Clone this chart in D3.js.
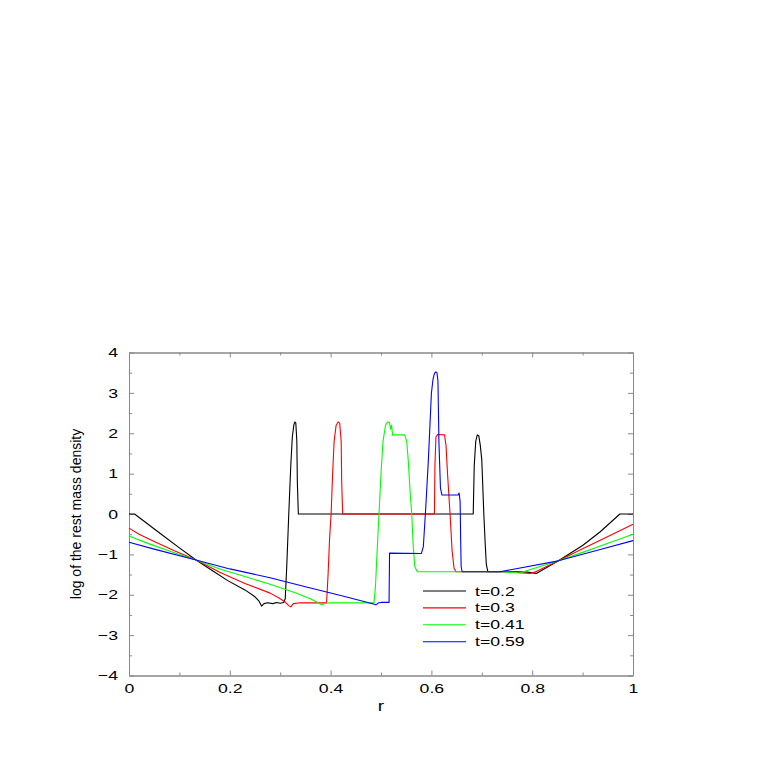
<!DOCTYPE html>
<html>
<head>
<meta charset="utf-8">
<script src="https://cdn.jsdelivr.net/npm/d3@7"></script>
<style>
  body { margin: 0; background: #fff; }
  text { font-family: "Liberation Sans", Arial, Helvetica, sans-serif; }
</style>
</head>
<body>
<div id="chart"></div>
<script>
// series: [r, log density]
const t02 = [[0,0],[0.011,0],[0.03,-0.18],[0.064,-0.5],[0.10,-0.84],[0.133,-1.14],[0.165,-1.40],[0.196,-1.65],[0.23,-1.88],[0.25,-2.05],[0.258,-2.16],[0.263,-2.28],[0.268,-2.22],[0.275,-2.20],[0.285,-2.22],[0.293,-2.19],[0.30,-2.21],[0.307,-2.19],[0.310,-2.1],[0.313,-1.3],[0.317,0],[0.321,1.2],[0.324,1.9],[0.327,2.2],[0.329,2.28],[0.331,2.25],[0.333,1.8],[0.334,0.8],[0.336,0],[0.683,0],[0.685,1.2],[0.688,1.8],[0.691,1.96],[0.694,1.94],[0.697,1.7],[0.700,1.34],[0.704,0],[0.707,-0.8],[0.709,-1.25],[0.712,-1.43],[0.77,-1.43],[0.79,-1.44],[0.809,-1.47],[0.852,-1.16],[0.90,-0.78],[0.935,-0.44],[0.974,0],[1,0]];
const t03 = [[0,-0.35],[0.02,-0.50],[0.05,-0.68],[0.09,-0.91],[0.133,-1.14],[0.18,-1.44],[0.23,-1.72],[0.28,-1.96],[0.296,-2.07],[0.31,-2.18],[0.317,-2.27],[0.321,-2.30],[0.326,-2.22],[0.34,-2.20],[0.392,-2.20],[0.395,-1.5],[0.398,-0.6],[0.401,0],[0.404,1.0],[0.407,1.8],[0.411,2.2],[0.415,2.28],[0.418,2.25],[0.421,1.8],[0.422,0.8],[0.424,0],[0.606,0],[0.607,1.2],[0.609,1.9],[0.612,1.97],[0.626,1.96],[0.629,1.7],[0.632,1.0],[0.637,0],[0.641,-0.9],[0.645,-1.35],[0.649,-1.43],[0.76,-1.43],[0.78,-1.46],[0.796,-1.47],[0.805,-1.44],[0.852,-1.16],[0.90,-0.86],[0.935,-0.65],[1,-0.255]];
const t041 = [[0,-0.545],[0.04,-0.74],[0.09,-0.96],[0.133,-1.14],[0.18,-1.36],[0.23,-1.55],[0.28,-1.74],[0.33,-1.95],[0.36,-2.1],[0.375,-2.2],[0.382,-2.25],[0.39,-2.21],[0.40,-2.20],[0.486,-2.20],[0.489,-1.8],[0.492,-1.0],[0.496,0],[0.50,1.0],[0.504,1.8],[0.509,2.2],[0.513,2.28],[0.517,2.27],[0.519,2.1],[0.521,2.2],[0.523,1.95],[0.526,1.96],[0.547,1.96],[0.551,1.8],[0.554,1.34],[0.558,0.5],[0.561,0],[0.564,-0.8],[0.567,-1.3],[0.572,-1.43],[0.74,-1.43],[0.76,-1.45],[0.776,-1.46],[0.79,-1.40],[0.852,-1.16],[0.90,-0.95],[0.935,-0.79],[1,-0.50]];
const t059 = [[0,-0.70],[0.05,-0.87],[0.133,-1.14],[0.20,-1.36],[0.28,-1.58],[0.35,-1.80],[0.42,-2.02],[0.47,-2.18],[0.485,-2.23],[0.490,-2.25],[0.495,-2.20],[0.50,-2.19],[0.516,-2.19],[0.517,-0.97],[0.58,-0.98],[0.584,-0.81],[0.589,0.2],[0.594,1.34],[0.600,2.99],[0.603,3.32],[0.606,3.48],[0.609,3.52],[0.611,3.5],[0.613,3.3],[0.615,1.75],[0.618,0.64],[0.621,0.47],[0.653,0.47],[0.655,0.52],[0.657,0.3],[0.658,-0.6],[0.659,-1.3],[0.661,-1.43],[0.736,-1.43],[0.852,-1.16],[0.935,-0.88],[1,-0.66]];

const seriesNames = ['t=0.2', 't=0.3', 't=0.41', 't=0.59'];
const seriesData = [t02, t03, t041, t059];
const seriesColors = ['#000000', '#ff0000', '#00ff00', '#0000ff'];

const xMajor = [0, 0.2, 0.4, 0.6, 0.8, 1];
const xMinor = [0.1, 0.3, 0.5, 0.7, 0.9];
const yMajor = [-4, -3, -2, -1, 0, 1, 2, 3, 4];
const yMinor = [-3.5, -2.5, -1.5, -0.5, 0.5, 1.5, 2.5, 3.5];

const width = 763, height = 763;
const plotLeft = 129, plotRight = 633, plotTop = 352.5, plotBottom = 675.5;
const axisColor = '#888';
const stretch = 1.36; // the original text is drawn wide

const svg = d3.select('#chart')
    .append('svg')
    .attr('width', width)
    .attr('height', height);

const x = d3.scaleLinear().domain([0, 1]).range([plotLeft, plotRight]);
const y = d3.scaleLinear().domain([-4, 4]).range([plotBottom, plotTop]);

const fmt = d => d === 0 ? '0' : d3.format('')(d);

function styleAxis(g) {
    g.selectAll('path, line').attr('stroke', axisColor);
    g.selectAll('text')
        .attr('fill', '#000')
        .style('font-size', '13px')
        .style('font-family', '"Liberation Sans", Arial, sans-serif')
        .each(function() {
            const t = d3.select(this);
            const tx = +t.attr('x') || 0;
            t.attr('x', tx / stretch).attr('transform', `scale(${stretch},1)`);
        });
}

// bottom / left with labels
svg.append('g')
    .attr('transform', `translate(0,${plotBottom})`)
    .call(d3.axisBottom(x).tickValues(xMajor).tickFormat(fmt).tickSizeInner(-5).tickSizeOuter(0).tickPadding(8))
    .call(styleAxis);
svg.append('g')
    .attr('transform', `translate(0,${plotBottom})`)
    .call(d3.axisBottom(x).tickValues(xMinor).tickFormat('').tickSizeInner(-3).tickSizeOuter(0))
    .call(styleAxis);
svg.append('g')
    .attr('transform', `translate(${plotLeft},0)`)
    .call(d3.axisLeft(y).tickValues(yMajor).tickFormat(fmt).tickSizeInner(-5).tickSizeOuter(0).tickPadding(11))
    .call(styleAxis);
svg.append('g')
    .attr('transform', `translate(${plotLeft},0)`)
    .call(d3.axisLeft(y).tickValues(yMinor).tickFormat('').tickSizeInner(-3).tickSizeOuter(0))
    .call(styleAxis);

// top / right mirror ticks
svg.append('g')
    .attr('transform', `translate(0,${plotTop})`)
    .call(d3.axisTop(x).tickValues(xMajor).tickFormat('').tickSizeInner(-5).tickSizeOuter(0))
    .call(styleAxis);
svg.append('g')
    .attr('transform', `translate(0,${plotTop})`)
    .call(d3.axisTop(x).tickValues(xMinor).tickFormat('').tickSizeInner(-3).tickSizeOuter(0))
    .call(styleAxis);
svg.append('g')
    .attr('transform', `translate(${plotRight},0)`)
    .call(d3.axisRight(y).tickValues(yMajor).tickFormat('').tickSizeInner(-5).tickSizeOuter(0))
    .call(styleAxis);
svg.append('g')
    .attr('transform', `translate(${plotRight},0)`)
    .call(d3.axisRight(y).tickValues(yMinor).tickFormat('').tickSizeInner(-3).tickSizeOuter(0))
    .call(styleAxis);

// curves
const line = d3.line()
    .x(d => x(d[0]))
    .y(d => y(d[1]));

svg.append('g')
    .selectAll('path')
    .data(seriesData)
    .join('path')
    .attr('d', line)
    .attr('fill', 'none')
    .attr('stroke', (d, i) => seriesColors[i])
    .attr('stroke-width', 1.1)
    .attr('stroke-linejoin', 'round');

// axis titles
svg.append('text')
    .attr('transform', `translate(${(plotLeft + plotRight) / 2},711) scale(${stretch},1)`)
    .attr('text-anchor', 'middle')
    .style('font-size', '14px')
    .text('r');

svg.append('text')
    .attr('transform', `translate(81,${(plotTop + plotBottom) / 2}) rotate(-90)`)
    .attr('text-anchor', 'middle')
    .style('font-size', '14px')
    .text('log of the rest mass density');

// legend
const legend = svg.append('g')
    .selectAll('g')
    .data(seriesNames)
    .join('g')
    .attr('transform', (d, i) => `translate(423,${591 + i * 16.9})`);

legend.append('line')
    .attr('x1', 0)
    .attr('x2', 43)
    .attr('stroke', (d, i) => seriesColors[i])
    .attr('stroke-width', 1.1);

legend.append('text')
    .attr('transform', `translate(52,0) scale(${stretch},1)`)
    .attr('dy', '0.35em')
    .style('font-size', '13px')
    .text(d => d);
</script>
</body>
</html>
